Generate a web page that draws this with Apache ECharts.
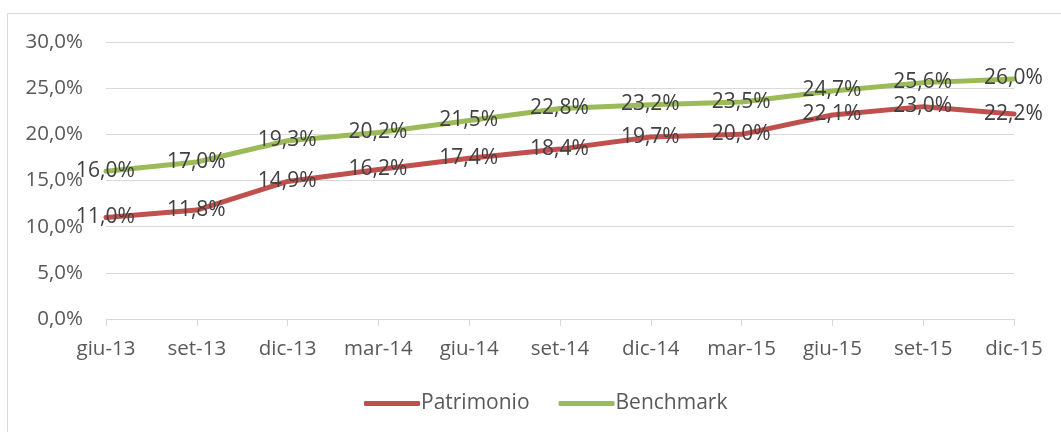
<!DOCTYPE html>
<html>
<head>
<meta charset="utf-8">
<script src="https://cdn.jsdelivr.net/npm/echarts@6/dist/echarts.min.js"></script>
<style>
  html, body { margin: 0; padding: 0; background: #fff; }
  #chart { width: 1061px; height: 432px; }
</style>
</head>
<body>
<div id="chart"></div>
<script>
// dati
const categories = ['giu-13', 'set-13', 'dic-13', 'mar-14', 'giu-14', 'set-14', 'dic-14', 'mar-15', 'giu-15', 'set-15', 'dic-15']
const patrimonio = [11.0, 11.8, 14.9, 16.2, 17.4, 18.4, 19.7, 20.0, 22.1, 23.0, 22.2]
const benchmark = [16.0, 17.0, 19.3, 20.2, 21.5, 22.8, 23.2, 23.5, 24.7, 25.6, 26.0]

const font = 'Open Sans'
const fmt = v => v.toFixed(1).replace('.', ',') + '%'

const myChart = echarts.init(document.getElementById('chart'))

const lineSeries = (name, data, color) => ({
  name: name,
  type: 'line',
  data: data,
  symbol: 'circle',
  symbolSize: 1,
  showSymbol: true,
  lineStyle: { color: color, width: 5, cap: 'round', join: 'round' },
  itemStyle: { color: color },
  label: {
    show: true,
    position: [0, 0],
    align: 'center',
    verticalAlign: 'middle',
    offset: [1, 3],
    formatter: p => fmt(p.value),
    color: '#404040',
    fontFamily: font,
    fontSize: 21
  },
  labelLayout: { hideOverlap: false },
  emphasis: { disabled: true }
})

myChart.setOption({
  animation: false,
  backgroundColor: '#fff',
  graphic: [
    {
      type: 'rect',
      shape: { x: 7.5, y: 13.5, width: 1080, height: 440 },
      style: { fill: 'none', stroke: '#d9d9d9', lineWidth: 1 },
      silent: true
    }
  ],
  grid: { left: 106, right: 47, top: 42, bottom: 113 },
  legend: {
    bottom: 13,
    left: 359,
    itemWidth: 56,
    itemHeight: 5,
    itemGap: 29,
    icon: 'roundRect',
    textStyle: { color: '#595959', fontFamily: font, fontSize: 21, padding: [0, 0, 0, -4] },
    data: ['Patrimonio', 'Benchmark']
  },
  xAxis: {
    type: 'category',
    data: categories,
    boundaryGap: false,
    axisLine: { lineStyle: { color: '#d9d9d9', width: 1 } },
    axisTick: { show: true, alignWithLabel: true, length: 7, lineStyle: { color: '#d9d9d9' } },
    axisLabel: { color: '#595959', fontFamily: font, fontSize: 20.5, margin: 20, interval: 0 },
    splitLine: { show: false }
  },
  yAxis: {
    type: 'value',
    min: 0,
    max: 30,
    interval: 5,
    axisLine: { show: false },
    axisTick: { show: false },
    axisLabel: { color: '#595959', fontFamily: font, fontSize: 20.5, margin: 23, formatter: v => fmt(v) },
    splitLine: { lineStyle: { color: '#d9d9d9', width: 1 } }
  },
  series: [
    lineSeries('Patrimonio', patrimonio, '#c0504d'),
    lineSeries('Benchmark', benchmark, '#9bbb59')
  ]
})
</script>
</body>
</html>
